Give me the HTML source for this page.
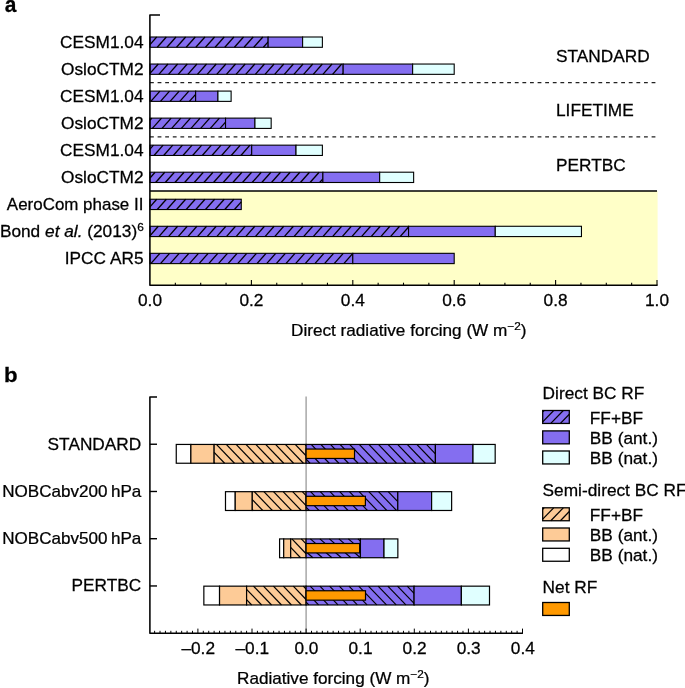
<!DOCTYPE html>
<html><head><meta charset="utf-8"><style>
html,body{margin:0;padding:0;background:#fff;}
svg{display:block;will-change:transform;}
text{fill:#000;stroke:#000;stroke-width:0.25px;}
</style></head><body>
<svg width="685" height="688" viewBox="0 0 685 688" font-family="Liberation Sans, sans-serif">
<rect x="0" y="0" width="685" height="688" fill="#fff"/>
<rect x="150.0" y="191.0" width="507.60" height="94.30" fill="#FFFFC8"/>
<line x1="150.00" y1="191.00" x2="657.00" y2="191.00" stroke="#000" stroke-width="1.3" />
<line x1="150.00" y1="82.71" x2="656.50" y2="82.71" stroke="#222" stroke-width="1.2" stroke-dasharray="3.8 3.8"/>
<line x1="150.00" y1="136.79" x2="656.50" y2="136.79" stroke="#222" stroke-width="1.2" stroke-dasharray="3.8 3.8"/>
<rect x="150.00" y="37.00" width="118.13" height="10.30" fill="#846EF0" stroke="none" stroke-width="1"/>
<line x1="150.00" y1="44.58" x2="156.68" y2="37.00" stroke="#000" stroke-width="1.3" />
<line x1="157.25" y1="47.30" x2="166.33" y2="37.00" stroke="#000" stroke-width="1.3" />
<line x1="166.90" y1="47.30" x2="175.98" y2="37.00" stroke="#000" stroke-width="1.3" />
<line x1="176.55" y1="47.30" x2="185.63" y2="37.00" stroke="#000" stroke-width="1.3" />
<line x1="186.20" y1="47.30" x2="195.28" y2="37.00" stroke="#000" stroke-width="1.3" />
<line x1="195.85" y1="47.30" x2="204.93" y2="37.00" stroke="#000" stroke-width="1.3" />
<line x1="205.50" y1="47.30" x2="214.58" y2="37.00" stroke="#000" stroke-width="1.3" />
<line x1="215.15" y1="47.30" x2="224.23" y2="37.00" stroke="#000" stroke-width="1.3" />
<line x1="224.80" y1="47.30" x2="233.88" y2="37.00" stroke="#000" stroke-width="1.3" />
<line x1="234.45" y1="47.30" x2="243.53" y2="37.00" stroke="#000" stroke-width="1.3" />
<line x1="244.10" y1="47.30" x2="253.18" y2="37.00" stroke="#000" stroke-width="1.3" />
<line x1="253.75" y1="47.30" x2="262.83" y2="37.00" stroke="#000" stroke-width="1.3" />
<line x1="263.40" y1="47.30" x2="268.13" y2="41.93" stroke="#000" stroke-width="1.3" />
<rect x="150.00" y="37.00" width="118.13" height="10.30" fill="none" stroke="#000" stroke-width="1.1"/>
<rect x="268.13" y="37.00" width="34.48" height="10.30" fill="#846EF0" stroke="#000" stroke-width="1.1"/>
<rect x="302.61" y="37.00" width="19.77" height="10.30" fill="#E0FFFF" stroke="#000" stroke-width="1.1"/>
<rect x="150.00" y="64.04" width="193.17" height="10.30" fill="#846EF0" stroke="none" stroke-width="1"/>
<line x1="150.00" y1="73.44" x2="158.29" y2="64.04" stroke="#000" stroke-width="1.3" />
<line x1="158.86" y1="74.34" x2="167.94" y2="64.04" stroke="#000" stroke-width="1.3" />
<line x1="168.51" y1="74.34" x2="177.59" y2="64.04" stroke="#000" stroke-width="1.3" />
<line x1="178.16" y1="74.34" x2="187.24" y2="64.04" stroke="#000" stroke-width="1.3" />
<line x1="187.81" y1="74.34" x2="196.89" y2="64.04" stroke="#000" stroke-width="1.3" />
<line x1="197.46" y1="74.34" x2="206.54" y2="64.04" stroke="#000" stroke-width="1.3" />
<line x1="207.11" y1="74.34" x2="216.19" y2="64.04" stroke="#000" stroke-width="1.3" />
<line x1="216.76" y1="74.34" x2="225.84" y2="64.04" stroke="#000" stroke-width="1.3" />
<line x1="226.41" y1="74.34" x2="235.49" y2="64.04" stroke="#000" stroke-width="1.3" />
<line x1="236.06" y1="74.34" x2="245.14" y2="64.04" stroke="#000" stroke-width="1.3" />
<line x1="245.71" y1="74.34" x2="254.79" y2="64.04" stroke="#000" stroke-width="1.3" />
<line x1="255.36" y1="74.34" x2="264.44" y2="64.04" stroke="#000" stroke-width="1.3" />
<line x1="265.01" y1="74.34" x2="274.09" y2="64.04" stroke="#000" stroke-width="1.3" />
<line x1="274.66" y1="74.34" x2="283.74" y2="64.04" stroke="#000" stroke-width="1.3" />
<line x1="284.31" y1="74.34" x2="293.39" y2="64.04" stroke="#000" stroke-width="1.3" />
<line x1="293.96" y1="74.34" x2="303.04" y2="64.04" stroke="#000" stroke-width="1.3" />
<line x1="303.61" y1="74.34" x2="312.69" y2="64.04" stroke="#000" stroke-width="1.3" />
<line x1="313.26" y1="74.34" x2="322.34" y2="64.04" stroke="#000" stroke-width="1.3" />
<line x1="322.91" y1="74.34" x2="331.99" y2="64.04" stroke="#000" stroke-width="1.3" />
<line x1="332.56" y1="74.34" x2="341.64" y2="64.04" stroke="#000" stroke-width="1.3" />
<line x1="342.21" y1="74.34" x2="343.17" y2="73.25" stroke="#000" stroke-width="1.3" />
<rect x="150.00" y="64.04" width="193.17" height="10.30" fill="none" stroke="#000" stroke-width="1.1"/>
<rect x="343.17" y="64.04" width="69.46" height="10.30" fill="#846EF0" stroke="#000" stroke-width="1.1"/>
<rect x="412.63" y="64.04" width="41.57" height="10.30" fill="#E0FFFF" stroke="#000" stroke-width="1.1"/>
<rect x="150.00" y="91.08" width="45.63" height="10.30" fill="#846EF0" stroke="none" stroke-width="1"/>
<line x1="150.00" y1="91.36" x2="150.25" y2="91.08" stroke="#000" stroke-width="1.3" />
<line x1="150.82" y1="101.38" x2="159.90" y2="91.08" stroke="#000" stroke-width="1.3" />
<line x1="160.47" y1="101.38" x2="169.55" y2="91.08" stroke="#000" stroke-width="1.3" />
<line x1="170.12" y1="101.38" x2="179.20" y2="91.08" stroke="#000" stroke-width="1.3" />
<line x1="179.77" y1="101.38" x2="188.85" y2="91.08" stroke="#000" stroke-width="1.3" />
<line x1="189.42" y1="101.38" x2="195.63" y2="94.34" stroke="#000" stroke-width="1.3" />
<rect x="150.00" y="91.08" width="45.63" height="10.30" fill="none" stroke="#000" stroke-width="1.1"/>
<rect x="195.63" y="91.08" width="22.31" height="10.30" fill="#846EF0" stroke="#000" stroke-width="1.1"/>
<rect x="217.94" y="91.08" width="13.18" height="10.30" fill="#E0FFFF" stroke="#000" stroke-width="1.1"/>
<rect x="150.00" y="118.12" width="75.54" height="10.30" fill="#846EF0" stroke="none" stroke-width="1"/>
<line x1="150.00" y1="120.23" x2="151.86" y2="118.12" stroke="#000" stroke-width="1.3" />
<line x1="152.43" y1="128.42" x2="161.51" y2="118.12" stroke="#000" stroke-width="1.3" />
<line x1="162.08" y1="128.42" x2="171.16" y2="118.12" stroke="#000" stroke-width="1.3" />
<line x1="171.73" y1="128.42" x2="180.81" y2="118.12" stroke="#000" stroke-width="1.3" />
<line x1="181.38" y1="128.42" x2="190.46" y2="118.12" stroke="#000" stroke-width="1.3" />
<line x1="191.03" y1="128.42" x2="200.11" y2="118.12" stroke="#000" stroke-width="1.3" />
<line x1="200.68" y1="128.42" x2="209.76" y2="118.12" stroke="#000" stroke-width="1.3" />
<line x1="210.33" y1="128.42" x2="219.41" y2="118.12" stroke="#000" stroke-width="1.3" />
<line x1="219.98" y1="128.42" x2="225.54" y2="122.11" stroke="#000" stroke-width="1.3" />
<rect x="150.00" y="118.12" width="75.54" height="10.30" fill="none" stroke="#000" stroke-width="1.1"/>
<rect x="225.54" y="118.12" width="29.41" height="10.30" fill="#846EF0" stroke="#000" stroke-width="1.1"/>
<rect x="254.95" y="118.12" width="16.22" height="10.30" fill="#E0FFFF" stroke="#000" stroke-width="1.1"/>
<rect x="150.00" y="145.16" width="101.70" height="10.30" fill="#846EF0" stroke="none" stroke-width="1"/>
<line x1="150.00" y1="149.10" x2="153.47" y2="145.16" stroke="#000" stroke-width="1.3" />
<line x1="154.04" y1="155.46" x2="163.12" y2="145.16" stroke="#000" stroke-width="1.3" />
<line x1="163.69" y1="155.46" x2="172.77" y2="145.16" stroke="#000" stroke-width="1.3" />
<line x1="173.34" y1="155.46" x2="182.42" y2="145.16" stroke="#000" stroke-width="1.3" />
<line x1="182.99" y1="155.46" x2="192.07" y2="145.16" stroke="#000" stroke-width="1.3" />
<line x1="192.64" y1="155.46" x2="201.72" y2="145.16" stroke="#000" stroke-width="1.3" />
<line x1="202.29" y1="155.46" x2="211.37" y2="145.16" stroke="#000" stroke-width="1.3" />
<line x1="211.94" y1="155.46" x2="221.02" y2="145.16" stroke="#000" stroke-width="1.3" />
<line x1="221.59" y1="155.46" x2="230.67" y2="145.16" stroke="#000" stroke-width="1.3" />
<line x1="231.24" y1="155.46" x2="240.32" y2="145.16" stroke="#000" stroke-width="1.3" />
<line x1="240.89" y1="155.46" x2="249.97" y2="145.16" stroke="#000" stroke-width="1.3" />
<line x1="250.54" y1="155.46" x2="251.70" y2="154.14" stroke="#000" stroke-width="1.3" />
<rect x="150.00" y="145.16" width="101.70" height="10.30" fill="none" stroke="#000" stroke-width="1.1"/>
<rect x="251.70" y="145.16" width="44.31" height="10.30" fill="#846EF0" stroke="#000" stroke-width="1.1"/>
<rect x="296.02" y="145.16" width="26.36" height="10.30" fill="#E0FFFF" stroke="#000" stroke-width="1.1"/>
<rect x="150.00" y="172.20" width="172.89" height="10.30" fill="#846EF0" stroke="none" stroke-width="1"/>
<line x1="150.00" y1="177.96" x2="155.08" y2="172.20" stroke="#000" stroke-width="1.3" />
<line x1="155.65" y1="182.50" x2="164.73" y2="172.20" stroke="#000" stroke-width="1.3" />
<line x1="165.30" y1="182.50" x2="174.38" y2="172.20" stroke="#000" stroke-width="1.3" />
<line x1="174.95" y1="182.50" x2="184.03" y2="172.20" stroke="#000" stroke-width="1.3" />
<line x1="184.60" y1="182.50" x2="193.68" y2="172.20" stroke="#000" stroke-width="1.3" />
<line x1="194.25" y1="182.50" x2="203.33" y2="172.20" stroke="#000" stroke-width="1.3" />
<line x1="203.90" y1="182.50" x2="212.98" y2="172.20" stroke="#000" stroke-width="1.3" />
<line x1="213.55" y1="182.50" x2="222.63" y2="172.20" stroke="#000" stroke-width="1.3" />
<line x1="223.20" y1="182.50" x2="232.28" y2="172.20" stroke="#000" stroke-width="1.3" />
<line x1="232.85" y1="182.50" x2="241.93" y2="172.20" stroke="#000" stroke-width="1.3" />
<line x1="242.50" y1="182.50" x2="251.58" y2="172.20" stroke="#000" stroke-width="1.3" />
<line x1="252.15" y1="182.50" x2="261.23" y2="172.20" stroke="#000" stroke-width="1.3" />
<line x1="261.80" y1="182.50" x2="270.88" y2="172.20" stroke="#000" stroke-width="1.3" />
<line x1="271.45" y1="182.50" x2="280.53" y2="172.20" stroke="#000" stroke-width="1.3" />
<line x1="281.10" y1="182.50" x2="290.18" y2="172.20" stroke="#000" stroke-width="1.3" />
<line x1="290.75" y1="182.50" x2="299.83" y2="172.20" stroke="#000" stroke-width="1.3" />
<line x1="300.40" y1="182.50" x2="309.48" y2="172.20" stroke="#000" stroke-width="1.3" />
<line x1="310.05" y1="182.50" x2="319.13" y2="172.20" stroke="#000" stroke-width="1.3" />
<line x1="319.70" y1="182.50" x2="322.89" y2="178.88" stroke="#000" stroke-width="1.3" />
<rect x="150.00" y="172.20" width="172.89" height="10.30" fill="none" stroke="#000" stroke-width="1.1"/>
<rect x="322.89" y="172.20" width="56.78" height="10.30" fill="#846EF0" stroke="#000" stroke-width="1.1"/>
<rect x="379.67" y="172.20" width="33.97" height="10.30" fill="#E0FFFF" stroke="#000" stroke-width="1.1"/>
<rect x="150.00" y="199.24" width="91.26" height="10.30" fill="#846EF0" stroke="none" stroke-width="1"/>
<line x1="150.00" y1="206.83" x2="156.69" y2="199.24" stroke="#000" stroke-width="1.3" />
<line x1="157.26" y1="209.54" x2="166.34" y2="199.24" stroke="#000" stroke-width="1.3" />
<line x1="166.91" y1="209.54" x2="175.99" y2="199.24" stroke="#000" stroke-width="1.3" />
<line x1="176.56" y1="209.54" x2="185.64" y2="199.24" stroke="#000" stroke-width="1.3" />
<line x1="186.21" y1="209.54" x2="195.29" y2="199.24" stroke="#000" stroke-width="1.3" />
<line x1="195.86" y1="209.54" x2="204.94" y2="199.24" stroke="#000" stroke-width="1.3" />
<line x1="205.51" y1="209.54" x2="214.59" y2="199.24" stroke="#000" stroke-width="1.3" />
<line x1="215.16" y1="209.54" x2="224.24" y2="199.24" stroke="#000" stroke-width="1.3" />
<line x1="224.81" y1="209.54" x2="233.89" y2="199.24" stroke="#000" stroke-width="1.3" />
<line x1="234.46" y1="209.54" x2="241.26" y2="201.83" stroke="#000" stroke-width="1.3" />
<rect x="150.00" y="199.24" width="91.26" height="10.30" fill="none" stroke="#000" stroke-width="1.1"/>
<rect x="150.00" y="226.28" width="258.57" height="10.30" fill="#846EF0" stroke="none" stroke-width="1"/>
<line x1="150.00" y1="235.70" x2="158.30" y2="226.28" stroke="#000" stroke-width="1.3" />
<line x1="158.87" y1="236.58" x2="167.95" y2="226.28" stroke="#000" stroke-width="1.3" />
<line x1="168.52" y1="236.58" x2="177.60" y2="226.28" stroke="#000" stroke-width="1.3" />
<line x1="178.17" y1="236.58" x2="187.25" y2="226.28" stroke="#000" stroke-width="1.3" />
<line x1="187.82" y1="236.58" x2="196.90" y2="226.28" stroke="#000" stroke-width="1.3" />
<line x1="197.47" y1="236.58" x2="206.55" y2="226.28" stroke="#000" stroke-width="1.3" />
<line x1="207.12" y1="236.58" x2="216.20" y2="226.28" stroke="#000" stroke-width="1.3" />
<line x1="216.77" y1="236.58" x2="225.85" y2="226.28" stroke="#000" stroke-width="1.3" />
<line x1="226.42" y1="236.58" x2="235.50" y2="226.28" stroke="#000" stroke-width="1.3" />
<line x1="236.07" y1="236.58" x2="245.15" y2="226.28" stroke="#000" stroke-width="1.3" />
<line x1="245.72" y1="236.58" x2="254.80" y2="226.28" stroke="#000" stroke-width="1.3" />
<line x1="255.37" y1="236.58" x2="264.45" y2="226.28" stroke="#000" stroke-width="1.3" />
<line x1="265.02" y1="236.58" x2="274.10" y2="226.28" stroke="#000" stroke-width="1.3" />
<line x1="274.67" y1="236.58" x2="283.75" y2="226.28" stroke="#000" stroke-width="1.3" />
<line x1="284.32" y1="236.58" x2="293.40" y2="226.28" stroke="#000" stroke-width="1.3" />
<line x1="293.97" y1="236.58" x2="303.05" y2="226.28" stroke="#000" stroke-width="1.3" />
<line x1="303.62" y1="236.58" x2="312.70" y2="226.28" stroke="#000" stroke-width="1.3" />
<line x1="313.27" y1="236.58" x2="322.35" y2="226.28" stroke="#000" stroke-width="1.3" />
<line x1="322.92" y1="236.58" x2="332.00" y2="226.28" stroke="#000" stroke-width="1.3" />
<line x1="332.57" y1="236.58" x2="341.65" y2="226.28" stroke="#000" stroke-width="1.3" />
<line x1="342.22" y1="236.58" x2="351.30" y2="226.28" stroke="#000" stroke-width="1.3" />
<line x1="351.87" y1="236.58" x2="360.95" y2="226.28" stroke="#000" stroke-width="1.3" />
<line x1="361.52" y1="236.58" x2="370.60" y2="226.28" stroke="#000" stroke-width="1.3" />
<line x1="371.17" y1="236.58" x2="380.25" y2="226.28" stroke="#000" stroke-width="1.3" />
<line x1="380.82" y1="236.58" x2="389.90" y2="226.28" stroke="#000" stroke-width="1.3" />
<line x1="390.47" y1="236.58" x2="399.55" y2="226.28" stroke="#000" stroke-width="1.3" />
<line x1="400.12" y1="236.58" x2="408.57" y2="226.99" stroke="#000" stroke-width="1.3" />
<rect x="150.00" y="226.28" width="258.57" height="10.30" fill="none" stroke="#000" stroke-width="1.1"/>
<rect x="408.57" y="226.28" width="86.70" height="10.30" fill="#846EF0" stroke="#000" stroke-width="1.1"/>
<rect x="495.27" y="226.28" width="86.19" height="10.30" fill="#E0FFFF" stroke="#000" stroke-width="1.1"/>
<rect x="150.00" y="253.32" width="202.80" height="10.30" fill="#846EF0" stroke="none" stroke-width="1"/>
<line x1="150.00" y1="253.61" x2="150.26" y2="253.32" stroke="#000" stroke-width="1.3" />
<line x1="150.83" y1="263.62" x2="159.91" y2="253.32" stroke="#000" stroke-width="1.3" />
<line x1="160.48" y1="263.62" x2="169.56" y2="253.32" stroke="#000" stroke-width="1.3" />
<line x1="170.13" y1="263.62" x2="179.21" y2="253.32" stroke="#000" stroke-width="1.3" />
<line x1="179.78" y1="263.62" x2="188.86" y2="253.32" stroke="#000" stroke-width="1.3" />
<line x1="189.43" y1="263.62" x2="198.51" y2="253.32" stroke="#000" stroke-width="1.3" />
<line x1="199.08" y1="263.62" x2="208.16" y2="253.32" stroke="#000" stroke-width="1.3" />
<line x1="208.73" y1="263.62" x2="217.81" y2="253.32" stroke="#000" stroke-width="1.3" />
<line x1="218.38" y1="263.62" x2="227.46" y2="253.32" stroke="#000" stroke-width="1.3" />
<line x1="228.03" y1="263.62" x2="237.11" y2="253.32" stroke="#000" stroke-width="1.3" />
<line x1="237.68" y1="263.62" x2="246.76" y2="253.32" stroke="#000" stroke-width="1.3" />
<line x1="247.33" y1="263.62" x2="256.41" y2="253.32" stroke="#000" stroke-width="1.3" />
<line x1="256.98" y1="263.62" x2="266.06" y2="253.32" stroke="#000" stroke-width="1.3" />
<line x1="266.63" y1="263.62" x2="275.71" y2="253.32" stroke="#000" stroke-width="1.3" />
<line x1="276.28" y1="263.62" x2="285.36" y2="253.32" stroke="#000" stroke-width="1.3" />
<line x1="285.93" y1="263.62" x2="295.01" y2="253.32" stroke="#000" stroke-width="1.3" />
<line x1="295.58" y1="263.62" x2="304.66" y2="253.32" stroke="#000" stroke-width="1.3" />
<line x1="305.23" y1="263.62" x2="314.31" y2="253.32" stroke="#000" stroke-width="1.3" />
<line x1="314.88" y1="263.62" x2="323.96" y2="253.32" stroke="#000" stroke-width="1.3" />
<line x1="324.53" y1="263.62" x2="333.61" y2="253.32" stroke="#000" stroke-width="1.3" />
<line x1="334.18" y1="263.62" x2="343.26" y2="253.32" stroke="#000" stroke-width="1.3" />
<line x1="343.83" y1="263.62" x2="352.80" y2="253.44" stroke="#000" stroke-width="1.3" />
<rect x="150.00" y="253.32" width="202.80" height="10.30" fill="none" stroke="#000" stroke-width="1.1"/>
<rect x="352.80" y="253.32" width="101.40" height="10.30" fill="#846EF0" stroke="#000" stroke-width="1.1"/>
<path d="M160,15.0 L149.9,15.0 L149.9,285.3 L657.6,285.3" fill="none" stroke="#000" stroke-width="1.55" stroke-linejoin="round"/>
<line x1="175.35" y1="285.30" x2="175.35" y2="282.70" stroke="#000" stroke-width="1.1" />
<line x1="200.70" y1="285.30" x2="200.70" y2="282.70" stroke="#000" stroke-width="1.1" />
<line x1="226.05" y1="285.30" x2="226.05" y2="282.70" stroke="#000" stroke-width="1.1" />
<line x1="251.40" y1="285.30" x2="251.40" y2="280.10" stroke="#000" stroke-width="1.1" />
<line x1="276.75" y1="285.30" x2="276.75" y2="282.70" stroke="#000" stroke-width="1.1" />
<line x1="302.10" y1="285.30" x2="302.10" y2="282.70" stroke="#000" stroke-width="1.1" />
<line x1="327.45" y1="285.30" x2="327.45" y2="282.70" stroke="#000" stroke-width="1.1" />
<line x1="352.80" y1="285.30" x2="352.80" y2="280.10" stroke="#000" stroke-width="1.1" />
<line x1="378.15" y1="285.30" x2="378.15" y2="282.70" stroke="#000" stroke-width="1.1" />
<line x1="403.50" y1="285.30" x2="403.50" y2="282.70" stroke="#000" stroke-width="1.1" />
<line x1="428.85" y1="285.30" x2="428.85" y2="282.70" stroke="#000" stroke-width="1.1" />
<line x1="454.20" y1="285.30" x2="454.20" y2="280.10" stroke="#000" stroke-width="1.1" />
<line x1="479.55" y1="285.30" x2="479.55" y2="282.70" stroke="#000" stroke-width="1.1" />
<line x1="504.90" y1="285.30" x2="504.90" y2="282.70" stroke="#000" stroke-width="1.1" />
<line x1="530.25" y1="285.30" x2="530.25" y2="282.70" stroke="#000" stroke-width="1.1" />
<line x1="555.60" y1="285.30" x2="555.60" y2="280.10" stroke="#000" stroke-width="1.1" />
<line x1="580.95" y1="285.30" x2="580.95" y2="282.70" stroke="#000" stroke-width="1.1" />
<line x1="606.30" y1="285.30" x2="606.30" y2="282.70" stroke="#000" stroke-width="1.1" />
<line x1="631.65" y1="285.30" x2="631.65" y2="282.70" stroke="#000" stroke-width="1.1" />
<line x1="657.00" y1="285.30" x2="657.00" y2="280.10" stroke="#000" stroke-width="1.1" />
<text transform="translate(143.50,48.00) scale(1.08,1)" text-anchor="end" font-size="16" font-weight="normal" >CESM1.04</text>
<text transform="translate(143.50,75.00) scale(1.08,1)" text-anchor="end" font-size="16" font-weight="normal" >OsloCTM2</text>
<text transform="translate(143.50,102.00) scale(1.08,1)" text-anchor="end" font-size="16" font-weight="normal" >CESM1.04</text>
<text transform="translate(143.50,129.00) scale(1.08,1)" text-anchor="end" font-size="16" font-weight="normal" >OsloCTM2</text>
<text transform="translate(143.50,156.00) scale(1.08,1)" text-anchor="end" font-size="16" font-weight="normal" >CESM1.04</text>
<text transform="translate(143.50,183.00) scale(1.08,1)" text-anchor="end" font-size="16" font-weight="normal" >OsloCTM2</text>
<text transform="translate(143.40,210.00) scale(1.06,1)" text-anchor="end" font-size="16" font-weight="normal" >AeroCom phase II</text>
<text transform="translate(143.80,237.00) scale(1.08,1)" text-anchor="end" font-size="16" font-weight="normal" >Bond <tspan font-style="italic">et al.</tspan> (2013)<tspan font-size="11" dy="-6">6</tspan></text>
<text transform="translate(143.50,264.00) scale(1.08,1)" text-anchor="end" font-size="16" font-weight="normal" >IPCC AR5</text>
<text transform="translate(556.00,62.00) scale(1.08,1)" text-anchor="start" font-size="16" font-weight="normal" >STANDARD</text>
<text transform="translate(556.00,116.00) scale(1.08,1)" text-anchor="start" font-size="16" font-weight="normal" >LIFETIME</text>
<text transform="translate(556.00,171.00) scale(1.08,1)" text-anchor="start" font-size="16" font-weight="normal" >PERTBC</text>
<text transform="translate(150.00,306.00) scale(1.08,1)" text-anchor="middle" font-size="16" font-weight="normal" >0.0</text>
<text transform="translate(251.40,306.00) scale(1.08,1)" text-anchor="middle" font-size="16" font-weight="normal" >0.2</text>
<text transform="translate(352.80,306.00) scale(1.08,1)" text-anchor="middle" font-size="16" font-weight="normal" >0.4</text>
<text transform="translate(454.20,306.00) scale(1.08,1)" text-anchor="middle" font-size="16" font-weight="normal" >0.6</text>
<text transform="translate(555.60,306.00) scale(1.08,1)" text-anchor="middle" font-size="16" font-weight="normal" >0.8</text>
<text transform="translate(657.00,306.00) scale(1.08,1)" text-anchor="middle" font-size="16" font-weight="normal" >1.0</text>
<text transform="translate(291.00,336.00) scale(1.073,1)" text-anchor="start" font-size="16" font-weight="normal" >Direct radiative forcing (W m<tspan font-size="11" dy="-6">&#8722;2</tspan><tspan dy="6">)</tspan></text>
<text transform="translate(4.70,12.00) scale(0.95,1)" text-anchor="start" font-size="22" font-weight="bold" >a</text>
<line x1="306.10" y1="396.60" x2="306.10" y2="633.20" stroke="#9a9a9a" stroke-width="1.3" />
<rect x="176.26" y="444.44" width="14.61" height="18.80" fill="#fff" stroke="#000" stroke-width="1.2"/>
<rect x="190.87" y="444.44" width="23.26" height="18.80" fill="#FDCB97" stroke="#000" stroke-width="1.2"/>
<rect x="214.13" y="444.44" width="91.97" height="18.80" fill="#FDCB97" stroke="none" stroke-width="1"/>
<line x1="214.13" y1="462.60" x2="214.75" y2="463.24" stroke="#000" stroke-width="1.2" />
<line x1="214.13" y1="452.34" x2="224.60" y2="463.24" stroke="#000" stroke-width="1.2" />
<line x1="216.40" y1="444.44" x2="234.45" y2="463.24" stroke="#000" stroke-width="1.2" />
<line x1="226.25" y1="444.44" x2="244.30" y2="463.24" stroke="#000" stroke-width="1.2" />
<line x1="236.10" y1="444.44" x2="254.15" y2="463.24" stroke="#000" stroke-width="1.2" />
<line x1="245.95" y1="444.44" x2="264.00" y2="463.24" stroke="#000" stroke-width="1.2" />
<line x1="255.80" y1="444.44" x2="273.85" y2="463.24" stroke="#000" stroke-width="1.2" />
<line x1="265.65" y1="444.44" x2="283.70" y2="463.24" stroke="#000" stroke-width="1.2" />
<line x1="275.50" y1="444.44" x2="293.55" y2="463.24" stroke="#000" stroke-width="1.2" />
<line x1="285.35" y1="444.44" x2="303.40" y2="463.24" stroke="#000" stroke-width="1.2" />
<line x1="295.20" y1="444.44" x2="306.10" y2="455.79" stroke="#000" stroke-width="1.2" />
<line x1="305.05" y1="444.44" x2="306.10" y2="445.53" stroke="#000" stroke-width="1.2" />
<rect x="214.13" y="444.44" width="91.97" height="18.80" fill="none" stroke="#000" stroke-width="1.2"/>
<rect x="306.10" y="444.44" width="129.30" height="18.80" fill="#846EF0" stroke="none" stroke-width="1"/>
<line x1="306.10" y1="459.13" x2="310.05" y2="463.24" stroke="#000" stroke-width="1.15" />
<line x1="306.10" y1="449.13" x2="319.65" y2="463.24" stroke="#000" stroke-width="1.15" />
<line x1="311.20" y1="444.44" x2="329.25" y2="463.24" stroke="#000" stroke-width="1.15" />
<line x1="320.80" y1="444.44" x2="338.85" y2="463.24" stroke="#000" stroke-width="1.15" />
<line x1="330.40" y1="444.44" x2="348.45" y2="463.24" stroke="#000" stroke-width="1.15" />
<line x1="340.00" y1="444.44" x2="358.05" y2="463.24" stroke="#000" stroke-width="1.15" />
<line x1="349.60" y1="444.44" x2="367.65" y2="463.24" stroke="#000" stroke-width="1.15" />
<line x1="359.20" y1="444.44" x2="377.25" y2="463.24" stroke="#000" stroke-width="1.15" />
<line x1="368.80" y1="444.44" x2="386.85" y2="463.24" stroke="#000" stroke-width="1.15" />
<line x1="378.40" y1="444.44" x2="396.45" y2="463.24" stroke="#000" stroke-width="1.15" />
<line x1="388.00" y1="444.44" x2="406.05" y2="463.24" stroke="#000" stroke-width="1.15" />
<line x1="397.60" y1="444.44" x2="415.65" y2="463.24" stroke="#000" stroke-width="1.15" />
<line x1="407.20" y1="444.44" x2="425.25" y2="463.24" stroke="#000" stroke-width="1.15" />
<line x1="416.80" y1="444.44" x2="434.85" y2="463.24" stroke="#000" stroke-width="1.15" />
<line x1="426.40" y1="444.44" x2="435.40" y2="453.81" stroke="#000" stroke-width="1.15" />
<rect x="306.10" y="444.44" width="129.30" height="18.80" fill="none" stroke="#000" stroke-width="1.2"/>
<rect x="435.40" y="444.44" width="37.60" height="18.80" fill="#846EF0" stroke="#000" stroke-width="1.2"/>
<rect x="473.00" y="444.44" width="22.18" height="18.80" fill="#E0FFFF" stroke="#000" stroke-width="1.2"/>
<rect x="306.10" y="449.04" width="48.42" height="9.40" fill="#FF9900" stroke="#000" stroke-width="1.2"/>
<rect x="225.49" y="491.68" width="9.74" height="18.80" fill="#fff" stroke="#000" stroke-width="1.2"/>
<rect x="235.23" y="491.68" width="17.04" height="18.80" fill="#FDCB97" stroke="#000" stroke-width="1.2"/>
<rect x="252.27" y="491.68" width="53.83" height="18.80" fill="#FDCB97" stroke="none" stroke-width="1"/>
<line x1="252.27" y1="509.57" x2="253.15" y2="510.48" stroke="#000" stroke-width="1.2" />
<line x1="252.27" y1="499.57" x2="262.75" y2="510.48" stroke="#000" stroke-width="1.2" />
<line x1="254.30" y1="491.68" x2="272.35" y2="510.48" stroke="#000" stroke-width="1.2" />
<line x1="263.90" y1="491.68" x2="281.95" y2="510.48" stroke="#000" stroke-width="1.2" />
<line x1="273.50" y1="491.68" x2="291.55" y2="510.48" stroke="#000" stroke-width="1.2" />
<line x1="283.10" y1="491.68" x2="301.15" y2="510.48" stroke="#000" stroke-width="1.2" />
<line x1="292.70" y1="491.68" x2="306.10" y2="505.64" stroke="#000" stroke-width="1.2" />
<line x1="302.30" y1="491.68" x2="306.10" y2="495.64" stroke="#000" stroke-width="1.2" />
<rect x="252.27" y="491.68" width="53.83" height="18.80" fill="none" stroke="#000" stroke-width="1.2"/>
<rect x="306.10" y="491.68" width="91.70" height="18.80" fill="#846EF0" stroke="none" stroke-width="1"/>
<line x1="306.10" y1="507.20" x2="309.25" y2="510.48" stroke="#000" stroke-width="1.15" />
<line x1="306.10" y1="497.10" x2="318.95" y2="510.48" stroke="#000" stroke-width="1.15" />
<line x1="310.60" y1="491.68" x2="328.65" y2="510.48" stroke="#000" stroke-width="1.15" />
<line x1="320.30" y1="491.68" x2="338.35" y2="510.48" stroke="#000" stroke-width="1.15" />
<line x1="330.00" y1="491.68" x2="348.05" y2="510.48" stroke="#000" stroke-width="1.15" />
<line x1="339.70" y1="491.68" x2="357.75" y2="510.48" stroke="#000" stroke-width="1.15" />
<line x1="349.40" y1="491.68" x2="367.45" y2="510.48" stroke="#000" stroke-width="1.15" />
<line x1="359.10" y1="491.68" x2="377.15" y2="510.48" stroke="#000" stroke-width="1.15" />
<line x1="368.80" y1="491.68" x2="386.85" y2="510.48" stroke="#000" stroke-width="1.15" />
<line x1="378.50" y1="491.68" x2="396.55" y2="510.48" stroke="#000" stroke-width="1.15" />
<line x1="388.20" y1="491.68" x2="397.80" y2="501.68" stroke="#000" stroke-width="1.15" />
<rect x="306.10" y="491.68" width="91.70" height="18.80" fill="none" stroke="#000" stroke-width="1.2"/>
<rect x="397.80" y="491.68" width="33.81" height="18.80" fill="#846EF0" stroke="#000" stroke-width="1.2"/>
<rect x="431.61" y="491.68" width="20.02" height="18.80" fill="#E0FFFF" stroke="#000" stroke-width="1.2"/>
<rect x="306.10" y="496.28" width="59.29" height="9.40" fill="#FF9900" stroke="#000" stroke-width="1.2"/>
<rect x="279.59" y="538.92" width="4.11" height="18.80" fill="#fff" stroke="#000" stroke-width="1.2"/>
<rect x="283.70" y="538.92" width="6.98" height="18.80" fill="#FDCB97" stroke="#000" stroke-width="1.2"/>
<rect x="290.68" y="538.92" width="15.42" height="18.80" fill="#FDCB97" stroke="none" stroke-width="1"/>
<line x1="290.68" y1="557.23" x2="291.15" y2="557.72" stroke="#000" stroke-width="1.2" />
<line x1="290.68" y1="547.44" x2="300.55" y2="557.72" stroke="#000" stroke-width="1.2" />
<line x1="291.90" y1="538.92" x2="306.10" y2="553.71" stroke="#000" stroke-width="1.2" />
<line x1="301.30" y1="538.92" x2="306.10" y2="543.92" stroke="#000" stroke-width="1.2" />
<rect x="290.68" y="538.92" width="15.42" height="18.80" fill="none" stroke="#000" stroke-width="1.2"/>
<rect x="306.10" y="538.92" width="54.32" height="18.80" fill="#846EF0" stroke="none" stroke-width="1"/>
<line x1="306.10" y1="551.77" x2="312.90" y2="557.72" stroke="#000" stroke-width="1.15" />
<line x1="306.10" y1="543.47" x2="322.40" y2="557.72" stroke="#000" stroke-width="1.15" />
<line x1="310.40" y1="538.92" x2="331.90" y2="557.72" stroke="#000" stroke-width="1.15" />
<line x1="319.90" y1="538.92" x2="341.40" y2="557.72" stroke="#000" stroke-width="1.15" />
<line x1="329.40" y1="538.92" x2="350.90" y2="557.72" stroke="#000" stroke-width="1.15" />
<line x1="338.90" y1="538.92" x2="360.40" y2="557.72" stroke="#000" stroke-width="1.15" />
<line x1="348.40" y1="538.92" x2="360.42" y2="549.43" stroke="#000" stroke-width="1.15" />
<line x1="357.90" y1="538.92" x2="360.42" y2="541.12" stroke="#000" stroke-width="1.15" />
<rect x="306.10" y="538.92" width="54.32" height="18.80" fill="none" stroke="#000" stroke-width="1.2"/>
<rect x="360.42" y="538.92" width="23.59" height="18.80" fill="#846EF0" stroke="#000" stroke-width="1.2"/>
<rect x="384.00" y="538.92" width="13.85" height="18.80" fill="#E0FFFF" stroke="#000" stroke-width="1.2"/>
<rect x="306.10" y="543.52" width="53.56" height="9.40" fill="#FF9900" stroke="#000" stroke-width="1.2"/>
<rect x="203.85" y="586.16" width="15.69" height="18.80" fill="#fff" stroke="#000" stroke-width="1.2"/>
<rect x="219.54" y="586.16" width="27.05" height="18.80" fill="#FDCB97" stroke="#000" stroke-width="1.2"/>
<rect x="246.59" y="586.16" width="59.51" height="18.80" fill="#FDCB97" stroke="none" stroke-width="1"/>
<line x1="246.59" y1="599.69" x2="251.65" y2="604.96" stroke="#000" stroke-width="1.2" />
<line x1="246.59" y1="589.33" x2="261.60" y2="604.96" stroke="#000" stroke-width="1.2" />
<line x1="253.50" y1="586.16" x2="271.55" y2="604.96" stroke="#000" stroke-width="1.2" />
<line x1="263.45" y1="586.16" x2="281.50" y2="604.96" stroke="#000" stroke-width="1.2" />
<line x1="273.40" y1="586.16" x2="291.45" y2="604.96" stroke="#000" stroke-width="1.2" />
<line x1="283.35" y1="586.16" x2="301.40" y2="604.96" stroke="#000" stroke-width="1.2" />
<line x1="293.30" y1="586.16" x2="306.10" y2="599.49" stroke="#000" stroke-width="1.2" />
<line x1="303.25" y1="586.16" x2="306.10" y2="589.13" stroke="#000" stroke-width="1.2" />
<rect x="246.59" y="586.16" width="59.51" height="18.80" fill="none" stroke="#000" stroke-width="1.2"/>
<rect x="306.10" y="586.16" width="107.98" height="18.80" fill="#846EF0" stroke="none" stroke-width="1"/>
<line x1="306.10" y1="602.10" x2="308.85" y2="604.96" stroke="#000" stroke-width="1.15" />
<line x1="306.10" y1="591.99" x2="318.55" y2="604.96" stroke="#000" stroke-width="1.15" />
<line x1="310.20" y1="586.16" x2="328.25" y2="604.96" stroke="#000" stroke-width="1.15" />
<line x1="319.90" y1="586.16" x2="337.95" y2="604.96" stroke="#000" stroke-width="1.15" />
<line x1="329.60" y1="586.16" x2="347.65" y2="604.96" stroke="#000" stroke-width="1.15" />
<line x1="339.30" y1="586.16" x2="357.35" y2="604.96" stroke="#000" stroke-width="1.15" />
<line x1="349.00" y1="586.16" x2="367.05" y2="604.96" stroke="#000" stroke-width="1.15" />
<line x1="358.70" y1="586.16" x2="376.75" y2="604.96" stroke="#000" stroke-width="1.15" />
<line x1="368.40" y1="586.16" x2="386.45" y2="604.96" stroke="#000" stroke-width="1.15" />
<line x1="378.10" y1="586.16" x2="396.15" y2="604.96" stroke="#000" stroke-width="1.15" />
<line x1="387.80" y1="586.16" x2="405.85" y2="604.96" stroke="#000" stroke-width="1.15" />
<line x1="397.50" y1="586.16" x2="414.08" y2="603.43" stroke="#000" stroke-width="1.15" />
<line x1="407.20" y1="586.16" x2="414.08" y2="593.33" stroke="#000" stroke-width="1.15" />
<rect x="306.10" y="586.16" width="107.98" height="18.80" fill="none" stroke="#000" stroke-width="1.2"/>
<rect x="414.08" y="586.16" width="47.28" height="18.80" fill="#846EF0" stroke="#000" stroke-width="1.2"/>
<rect x="461.37" y="586.16" width="28.13" height="18.80" fill="#E0FFFF" stroke="#000" stroke-width="1.2"/>
<rect x="306.10" y="590.76" width="59.40" height="9.40" fill="#FF9900" stroke="#000" stroke-width="1.2"/>
<path d="M157,397.0 L149.9,397.0 L149.9,633.2 L522.90,633.2" fill="none" stroke="#000" stroke-width="1.55" stroke-linejoin="round"/>
<line x1="149.90" y1="444.24" x2="157.00" y2="444.24" stroke="#000" stroke-width="1.4" />
<line x1="149.90" y1="491.48" x2="157.00" y2="491.48" stroke="#000" stroke-width="1.4" />
<line x1="149.90" y1="538.72" x2="157.00" y2="538.72" stroke="#000" stroke-width="1.4" />
<line x1="149.90" y1="585.96" x2="157.00" y2="585.96" stroke="#000" stroke-width="1.4" />
<line x1="154.62" y1="633.20" x2="154.62" y2="630.80" stroke="#000" stroke-width="1.0" />
<line x1="160.03" y1="633.20" x2="160.03" y2="630.80" stroke="#000" stroke-width="1.0" />
<line x1="165.44" y1="633.20" x2="165.44" y2="630.80" stroke="#000" stroke-width="1.0" />
<line x1="170.85" y1="633.20" x2="170.85" y2="630.80" stroke="#000" stroke-width="1.0" />
<line x1="176.26" y1="633.20" x2="176.26" y2="630.80" stroke="#000" stroke-width="1.0" />
<line x1="181.67" y1="633.20" x2="181.67" y2="630.80" stroke="#000" stroke-width="1.0" />
<line x1="187.08" y1="633.20" x2="187.08" y2="630.80" stroke="#000" stroke-width="1.0" />
<line x1="192.49" y1="633.20" x2="192.49" y2="630.80" stroke="#000" stroke-width="1.0" />
<line x1="197.90" y1="633.20" x2="197.90" y2="628.60" stroke="#000" stroke-width="1.0" />
<line x1="203.31" y1="633.20" x2="203.31" y2="630.80" stroke="#000" stroke-width="1.0" />
<line x1="208.72" y1="633.20" x2="208.72" y2="630.80" stroke="#000" stroke-width="1.0" />
<line x1="214.13" y1="633.20" x2="214.13" y2="630.80" stroke="#000" stroke-width="1.0" />
<line x1="219.54" y1="633.20" x2="219.54" y2="630.80" stroke="#000" stroke-width="1.0" />
<line x1="224.95" y1="633.20" x2="224.95" y2="630.80" stroke="#000" stroke-width="1.0" />
<line x1="230.36" y1="633.20" x2="230.36" y2="630.80" stroke="#000" stroke-width="1.0" />
<line x1="235.77" y1="633.20" x2="235.77" y2="630.80" stroke="#000" stroke-width="1.0" />
<line x1="241.18" y1="633.20" x2="241.18" y2="630.80" stroke="#000" stroke-width="1.0" />
<line x1="246.59" y1="633.20" x2="246.59" y2="630.80" stroke="#000" stroke-width="1.0" />
<line x1="252.00" y1="633.20" x2="252.00" y2="628.60" stroke="#000" stroke-width="1.0" />
<line x1="257.41" y1="633.20" x2="257.41" y2="630.80" stroke="#000" stroke-width="1.0" />
<line x1="262.82" y1="633.20" x2="262.82" y2="630.80" stroke="#000" stroke-width="1.0" />
<line x1="268.23" y1="633.20" x2="268.23" y2="630.80" stroke="#000" stroke-width="1.0" />
<line x1="273.64" y1="633.20" x2="273.64" y2="630.80" stroke="#000" stroke-width="1.0" />
<line x1="279.05" y1="633.20" x2="279.05" y2="630.80" stroke="#000" stroke-width="1.0" />
<line x1="284.46" y1="633.20" x2="284.46" y2="630.80" stroke="#000" stroke-width="1.0" />
<line x1="289.87" y1="633.20" x2="289.87" y2="630.80" stroke="#000" stroke-width="1.0" />
<line x1="295.28" y1="633.20" x2="295.28" y2="630.80" stroke="#000" stroke-width="1.0" />
<line x1="300.69" y1="633.20" x2="300.69" y2="630.80" stroke="#000" stroke-width="1.0" />
<line x1="306.10" y1="633.20" x2="306.10" y2="628.60" stroke="#000" stroke-width="1.0" />
<line x1="311.51" y1="633.20" x2="311.51" y2="630.80" stroke="#000" stroke-width="1.0" />
<line x1="316.92" y1="633.20" x2="316.92" y2="630.80" stroke="#000" stroke-width="1.0" />
<line x1="322.33" y1="633.20" x2="322.33" y2="630.80" stroke="#000" stroke-width="1.0" />
<line x1="327.74" y1="633.20" x2="327.74" y2="630.80" stroke="#000" stroke-width="1.0" />
<line x1="333.15" y1="633.20" x2="333.15" y2="630.80" stroke="#000" stroke-width="1.0" />
<line x1="338.56" y1="633.20" x2="338.56" y2="630.80" stroke="#000" stroke-width="1.0" />
<line x1="343.97" y1="633.20" x2="343.97" y2="630.80" stroke="#000" stroke-width="1.0" />
<line x1="349.38" y1="633.20" x2="349.38" y2="630.80" stroke="#000" stroke-width="1.0" />
<line x1="354.79" y1="633.20" x2="354.79" y2="630.80" stroke="#000" stroke-width="1.0" />
<line x1="360.20" y1="633.20" x2="360.20" y2="628.60" stroke="#000" stroke-width="1.0" />
<line x1="365.61" y1="633.20" x2="365.61" y2="630.80" stroke="#000" stroke-width="1.0" />
<line x1="371.02" y1="633.20" x2="371.02" y2="630.80" stroke="#000" stroke-width="1.0" />
<line x1="376.43" y1="633.20" x2="376.43" y2="630.80" stroke="#000" stroke-width="1.0" />
<line x1="381.84" y1="633.20" x2="381.84" y2="630.80" stroke="#000" stroke-width="1.0" />
<line x1="387.25" y1="633.20" x2="387.25" y2="630.80" stroke="#000" stroke-width="1.0" />
<line x1="392.66" y1="633.20" x2="392.66" y2="630.80" stroke="#000" stroke-width="1.0" />
<line x1="398.07" y1="633.20" x2="398.07" y2="630.80" stroke="#000" stroke-width="1.0" />
<line x1="403.48" y1="633.20" x2="403.48" y2="630.80" stroke="#000" stroke-width="1.0" />
<line x1="408.89" y1="633.20" x2="408.89" y2="630.80" stroke="#000" stroke-width="1.0" />
<line x1="414.30" y1="633.20" x2="414.30" y2="628.60" stroke="#000" stroke-width="1.0" />
<line x1="419.71" y1="633.20" x2="419.71" y2="630.80" stroke="#000" stroke-width="1.0" />
<line x1="425.12" y1="633.20" x2="425.12" y2="630.80" stroke="#000" stroke-width="1.0" />
<line x1="430.53" y1="633.20" x2="430.53" y2="630.80" stroke="#000" stroke-width="1.0" />
<line x1="435.94" y1="633.20" x2="435.94" y2="630.80" stroke="#000" stroke-width="1.0" />
<line x1="441.35" y1="633.20" x2="441.35" y2="630.80" stroke="#000" stroke-width="1.0" />
<line x1="446.76" y1="633.20" x2="446.76" y2="630.80" stroke="#000" stroke-width="1.0" />
<line x1="452.17" y1="633.20" x2="452.17" y2="630.80" stroke="#000" stroke-width="1.0" />
<line x1="457.58" y1="633.20" x2="457.58" y2="630.80" stroke="#000" stroke-width="1.0" />
<line x1="462.99" y1="633.20" x2="462.99" y2="630.80" stroke="#000" stroke-width="1.0" />
<line x1="468.40" y1="633.20" x2="468.40" y2="628.60" stroke="#000" stroke-width="1.0" />
<line x1="473.81" y1="633.20" x2="473.81" y2="630.80" stroke="#000" stroke-width="1.0" />
<line x1="479.22" y1="633.20" x2="479.22" y2="630.80" stroke="#000" stroke-width="1.0" />
<line x1="484.63" y1="633.20" x2="484.63" y2="630.80" stroke="#000" stroke-width="1.0" />
<line x1="490.04" y1="633.20" x2="490.04" y2="630.80" stroke="#000" stroke-width="1.0" />
<line x1="495.45" y1="633.20" x2="495.45" y2="630.80" stroke="#000" stroke-width="1.0" />
<line x1="500.86" y1="633.20" x2="500.86" y2="630.80" stroke="#000" stroke-width="1.0" />
<line x1="506.27" y1="633.20" x2="506.27" y2="630.80" stroke="#000" stroke-width="1.0" />
<line x1="511.68" y1="633.20" x2="511.68" y2="630.80" stroke="#000" stroke-width="1.0" />
<line x1="517.09" y1="633.20" x2="517.09" y2="630.80" stroke="#000" stroke-width="1.0" />
<line x1="522.50" y1="633.20" x2="522.50" y2="628.60" stroke="#000" stroke-width="1.0" />
<text transform="translate(141.30,450.00) scale(1.08,1)" text-anchor="end" font-size="16" font-weight="normal" >STANDARD</text>
<text transform="translate(141.30,497.00) scale(1.067,1)" text-anchor="end" font-size="16" font-weight="normal" >NOBCabv200&#8201;hPa</text>
<text transform="translate(141.30,544.00) scale(1.067,1)" text-anchor="end" font-size="16" font-weight="normal" >NOBCabv500&#8201;hPa</text>
<text transform="translate(141.30,591.00) scale(1.08,1)" text-anchor="end" font-size="16" font-weight="normal" >PERTBC</text>
<text transform="translate(198.20,654.00) scale(1.08,1)" text-anchor="middle" font-size="16" font-weight="normal" >&#8211;0.2</text>
<text transform="translate(252.30,654.00) scale(1.08,1)" text-anchor="middle" font-size="16" font-weight="normal" >&#8211;0.1</text>
<text transform="translate(306.40,654.00) scale(1.08,1)" text-anchor="middle" font-size="16" font-weight="normal" >0.0</text>
<text transform="translate(360.50,654.00) scale(1.08,1)" text-anchor="middle" font-size="16" font-weight="normal" >0.1</text>
<text transform="translate(414.60,654.00) scale(1.08,1)" text-anchor="middle" font-size="16" font-weight="normal" >0.2</text>
<text transform="translate(468.70,654.00) scale(1.08,1)" text-anchor="middle" font-size="16" font-weight="normal" >0.3</text>
<text transform="translate(522.80,654.00) scale(1.08,1)" text-anchor="middle" font-size="16" font-weight="normal" >0.4</text>
<text transform="translate(237.00,684.00) scale(1.0716,1)" text-anchor="start" font-size="16" font-weight="normal" >Radiative forcing (W m<tspan font-size="11" dy="-6">&#8722;2</tspan><tspan dy="6">)</tspan></text>
<text transform="translate(3.90,382.00) scale(1.06,1)" text-anchor="start" font-size="21" font-weight="bold" >b</text>
<text transform="translate(542.60,399.00) scale(1.08,1)" text-anchor="start" font-size="16" font-weight="normal" >Direct BC RF</text>
<rect x="542.70" y="410.50" width="26.60" height="12.95" fill="#846EF0" stroke="none" stroke-width="1"/>
<line x1="542.70" y1="411.95" x2="544.10" y2="410.50" stroke="#000" stroke-width="1.2" />
<line x1="542.70" y1="421.90" x2="553.70" y2="410.50" stroke="#000" stroke-width="1.2" />
<line x1="550.80" y1="423.45" x2="563.30" y2="410.50" stroke="#000" stroke-width="1.2" />
<line x1="560.40" y1="423.45" x2="569.30" y2="414.23" stroke="#000" stroke-width="1.2" />
<rect x="542.70" y="410.50" width="26.60" height="12.95" fill="none" stroke="#000" stroke-width="1.3"/>
<text transform="translate(589.80,424.00) scale(1.08,1)" text-anchor="start" font-size="16" font-weight="normal" >FF+BF</text>
<rect x="542.70" y="430.90" width="26.60" height="12.95" fill="#846EF0" stroke="#000" stroke-width="1.3"/>
<text transform="translate(589.80,444.00) scale(1.08,1)" text-anchor="start" font-size="16" font-weight="normal" >BB (ant.)</text>
<rect x="542.70" y="451.00" width="26.60" height="12.95" fill="#E0FFFF" stroke="#000" stroke-width="1.3"/>
<text transform="translate(589.80,464.00) scale(1.08,1)" text-anchor="start" font-size="16" font-weight="normal" >BB (nat.)</text>
<text transform="translate(542.60,496.00) scale(1.08,1)" text-anchor="start" font-size="16" font-weight="normal" >Semi-direct BC RF</text>
<rect x="542.70" y="507.80" width="26.60" height="12.95" fill="#FDCB97" stroke="none" stroke-width="1"/>
<line x1="542.70" y1="509.25" x2="544.10" y2="507.80" stroke="#000" stroke-width="1.2" />
<line x1="542.70" y1="519.20" x2="553.70" y2="507.80" stroke="#000" stroke-width="1.2" />
<line x1="550.80" y1="520.75" x2="563.30" y2="507.80" stroke="#000" stroke-width="1.2" />
<line x1="560.40" y1="520.75" x2="569.30" y2="511.53" stroke="#000" stroke-width="1.2" />
<rect x="542.70" y="507.80" width="26.60" height="12.95" fill="none" stroke="#000" stroke-width="1.3"/>
<text transform="translate(589.80,521.00) scale(1.08,1)" text-anchor="start" font-size="16" font-weight="normal" >FF+BF</text>
<rect x="542.70" y="528.00" width="26.60" height="12.95" fill="#FDCB97" stroke="#000" stroke-width="1.3"/>
<text transform="translate(589.80,541.00) scale(1.08,1)" text-anchor="start" font-size="16" font-weight="normal" >BB (ant.)</text>
<rect x="542.70" y="548.30" width="26.60" height="12.95" fill="#fff" stroke="#000" stroke-width="1.3"/>
<text transform="translate(589.80,561.00) scale(1.08,1)" text-anchor="start" font-size="16" font-weight="normal" >BB (nat.)</text>
<text transform="translate(542.60,593.00) scale(1.08,1)" text-anchor="start" font-size="16" font-weight="normal" >Net RF</text>
<rect x="542.70" y="602.50" width="26.60" height="12.95" fill="#FF9900" stroke="#000" stroke-width="1.3"/>
</svg>
</body></html>
